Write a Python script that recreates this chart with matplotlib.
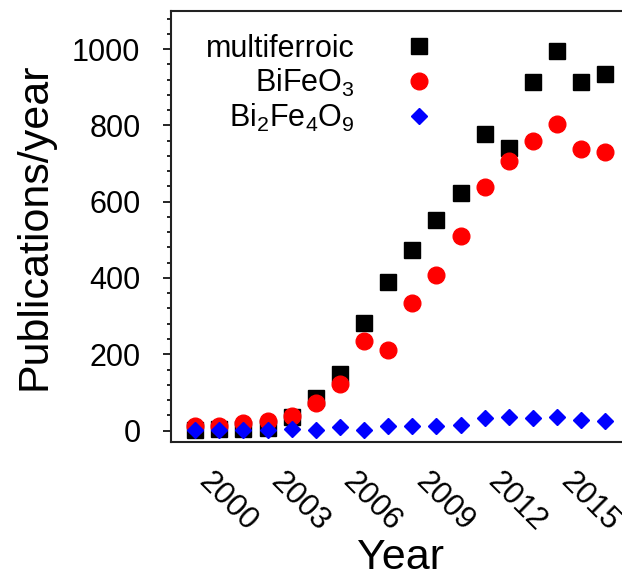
import matplotlib
matplotlib.use("Agg")
import matplotlib.pyplot as plt
import matplotlib.transforms as mtransforms
from matplotlib.ticker import MultipleLocator

# publication counts
years = list(range(1999, 2017))
multiferroic = [2, 3, 5, 8, 35, 86, 147, 281, 389, 473, 553, 622, 777, 741, 915, 996, 915, 936]
bifeo3 = [11, 11, 20, 24, 38, 73, 121, 236, 210, 334, 409, 511, 639, 706, 760, 805, 738, 731]
bi2fe4o9 = [1, 1, 2, 2, 4, 2, 9, 1, 11, 11, 13, 15, 33, 36, 33, 36, 27, 26]

xticks = [2000, 2003, 2006, 2009, 2012, 2015]
yticks = [0, 200, 400, 600, 800, 1000]

plt.rcParams['font.family'] = ['Liberation Sans', 'DejaVu Sans']
plt.rcParams['mathtext.default'] = 'regular'

fig = plt.figure(figsize=(6.22, 5.78), dpi=100)
ax = fig.add_axes([0.2749, 0.2353, 0.7371, 0.7457])

ax.plot(years, multiferroic, 's', color='black', markersize=11.5, label='multiferroic')
ax.plot(years, bifeo3, 'o', color='red', markersize=12, label='BiFeO$_3$')
ax.plot(years, bi2fe4o9, 'D', color='blue', markersize=8, label='Bi$_2$Fe$_4$O$_9$')

ax.set_xlim(1998, 2017)
ax.set_ylim(-30, 1100)
ax.set_xticks(xticks)
ax.set_yticks(yticks)
ax.yaxis.set_minor_locator(MultipleLocator(40))

ax.tick_params(axis='y', which='major', direction='out', length=6, width=1.2, pad=16, labelsize=22)
ax.tick_params(axis='y', which='minor', direction='out', length=3, width=1.2)
ax.tick_params(axis='x', which='both', length=0, pad=18, labelsize=22.5)
ax.tick_params(right=False, top=False)

# rotated year labels, nudged a little right of their ticks
offset = mtransforms.ScaledTranslation(8 / 100, 0, fig.dpi_scale_trans)
for lbl in ax.get_xticklabels():
    lbl.set_rotation(-45)
    lbl.set_ha('center')
    lbl.set_transform(lbl.get_transform() + offset)

for sp in ax.spines.values():
    sp.set_linewidth(1.5)
    sp.set_color('#222222')

ax.set_xlabel('Year', fontsize=31, labelpad=0)
ax.set_ylabel('Publications/year', fontsize=31, labelpad=13)

ax.legend(loc='upper right', bbox_to_anchor=(0.5736, 0.947), frameon=False,
          markerfirst=False, fontsize=22, handlelength=1.0, handletextpad=1.6,
          labelspacing=0.1, borderpad=0, borderaxespad=0)

fig.savefig('out.png', dpi=100)
